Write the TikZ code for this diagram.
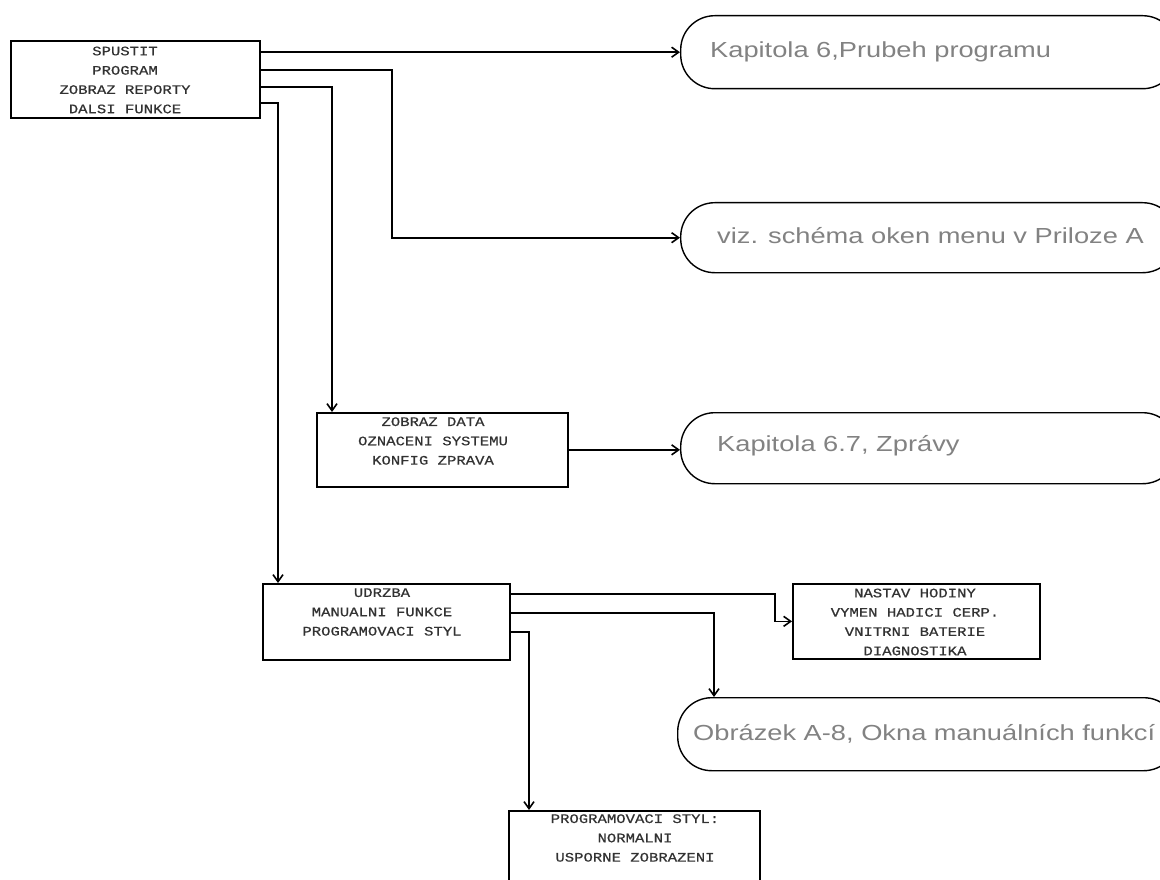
\documentclass[tikz,border=0pt]{standalone}
\usepackage{fontspec}
\usetikzlibrary{arrows.meta}
\newfontfamily\menufont[FakeStretch=1.2,FakeBold=0.6]{Liberation Mono}
\newfontfamily\notefont[FakeStretch=1.25]{Liberation Sans}
\definecolor{notegray}{RGB}{130,130,130}
\definecolor{menuink}{RGB}{50,50,50}
\begin{document}
\begin{tikzpicture}[x=1pt,y=-1pt,
  menubox/.style={draw=black,line width=1.7pt,inner sep=0pt,anchor=north west},
  menutext/.style={text=menuink,align=center,inner sep=0pt,
    font=\menufont\fontsize{13}{19.3}\selectfont},
  notebox/.style={draw=black,line width=1.4pt,rounded corners=34pt,inner sep=0pt,anchor=north west},
  notetext/.style={text=notegray,anchor=west,inner sep=0pt,
    font=\notefont\fontsize{21.8}{26}\selectfont},
  conn/.style={draw=black,line width=1.6pt},
  arr/.style={conn,-{Straight Barb[length=7pt,width=10pt]}}]
\useasboundingbox (0,0) rectangle (1160,880);
\clip (0,0) rectangle (1160,880);

% main menu
\node[menubox,minimum width=249pt,minimum height=77pt] (sp) at (10,40) {};
\node[menutext] at (125,80) {SPUSTIT\\PROGRAM\\ZOBRAZ REPORTY\\DALSI FUNKCE};

% reference notes
\node[notebox,minimum width=496pt,minimum height=73pt] (k6) at (680,15) {};
\node[notetext] at (710,52) {Kapitola 6,Prubeh programu};
\node[notebox,minimum width=496pt,minimum height=70pt] (viz) at (680,202) {};
\node[notetext] at (717,236) {viz. schéma oken menu v Priloze A};
\node[notebox,minimum width=496pt,minimum height=71pt] (k67) at (680,412) {};
\node[notetext] at (717,446) {Kapitola 6.7, Zprávy};
\node[notebox,minimum width=500pt,minimum height=73pt] (ob) at (677,697) {};
\node[notetext] at (693,734) {Obrázek A-8, Okna manuálních funkcí};

% submenus
\node[menubox,minimum width=251pt,minimum height=74pt] (zd) at (316,412) {};
\node[menutext] at (433,441) {ZOBRAZ DATA\\OZNACENI SYSTEMU\\KONFIG ZPRAVA};
\node[menubox,minimum width=247pt,minimum height=76pt] (ud) at (262,583) {};
\node[menutext] at (382,612) {UDRZBA\\MANUALNI FUNKCE\\PROGRAMOVACI STYL};
\node[menubox,minimum width=247pt,minimum height=75pt] (ns) at (792,583) {};
\node[menutext] at (915,622) {NASTAV HODINY\\VYMEN HADICI CERP.\\VNITRNI BATERIE\\DIAGNOSTIKA};
\node[menubox,minimum width=251pt,minimum height=90pt] (ps) at (508,810) {};
\node[menutext] at (635,838) {PROGRAMOVACI STYL:\\NORMALNI\\USPORNE ZOBRAZENI};

% connectors from the main menu
\draw[arr] (sp.east |- k6.west) -- (k6.west);
\draw[arr] ([yshift=-30pt]sp.north east) -- ++(131,0) |- (viz.west);
\draw[arr] ([yshift=-47pt]sp.north east) -| ([xshift=16pt]zd.north west);
\draw[arr] ([yshift=-63pt]sp.north east) -| ([xshift=16pt]ud.north west);

% connectors from the submenus
\draw[arr] (zd.east) -- (zd.east -| k67.west);
\draw[arr] ([yshift=-11pt]ud.north east) -| ([xshift=-17pt]ns.west) -- (ns.west);
\draw[arr] ([yshift=-30pt]ud.north east) -| ([xshift=37pt]ob.north west);
\draw[arr] ([yshift=-49pt]ud.north east) -| ([xshift=21pt]ps.north west);
\end{tikzpicture}
\end{document}
